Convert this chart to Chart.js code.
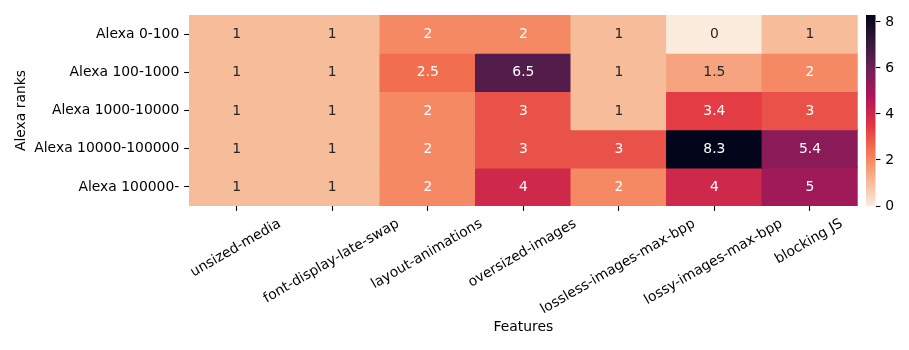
<!DOCTYPE html>
<html>
<head>
<meta charset="utf-8">
<script src="https://cdn.jsdelivr.net/npm/chart.js@4/dist/chart.umd.min.js"></script>
<style>
  html, body { margin: 0; padding: 0; background: #fff; }
  #wrap { position: relative; width: 909px; height: 350px; }
  #heat { position: absolute; left: 0; top: 0; }
  #cbar { position: absolute; left: 866px; top: 0; }
</style>
</head>
<body>
<div id="wrap">
  <canvas id="heat" width="909" height="350"></canvas>
  <canvas id="cbar" width="43" height="350"></canvas>
</div>
<script>
// --- data ---
const features = ['unsized-media', 'font-display-late-swap', 'layout-animations', 'oversized-images',
                  'lossless-images-max-bpp', 'lossy-images-max-bpp', 'blocking JS'];
const ranks = ['Alexa 0-100', 'Alexa 100-1000', 'Alexa 1000-10000', 'Alexa 10000-100000', 'Alexa 100000-'];
const row0 = [1, 1, 2, 2, 1, 0, 1];
const row1 = [1, 1, 2.5, 6.5, 1, 1.5, 2];
const row2 = [1, 1, 2, 3, 1, 3.4, 3];
const row3 = [1, 1, 2, 3, 3, 8.3, 5.4];
const row4 = [1, 1, 2, 4, 2, 4, 5];
const rows = [row0, row1, row2, row3, row4];
const cbTicks = [0, 2, 4, 6, 8];

const vmin = 0;
const vmax = Math.max(...rows.flat());

// rocket_r colormap (light -> dark)
const rocketR = ['#faebdd', '#f6b48f', '#f37651', '#e13342', '#ad1759', '#701f57', '#35193e', '#03051a'];

const FONT = '"DejaVu Sans", sans-serif';
const FS = 13.9;

function hexRgb(h) {
    return [parseInt(h.slice(1, 3), 16), parseInt(h.slice(3, 5), 16), parseInt(h.slice(5, 7), 16)];
}

function cmap(v) {
    let t = (v - vmin) / (vmax - vmin);
    t = Math.min(1, Math.max(0, t)) * (rocketR.length - 1);
    const i = Math.min(rocketR.length - 2, Math.floor(t));
    const f = t - i;
    const a = hexRgb(rocketR[i]), b = hexRgb(rocketR[i + 1]);
    return a.map((c, k) => Math.round(c + (b[k] - c) * f));
}

function rgbStr(c) { return `rgb(${c[0]},${c[1]},${c[2]})`; }

function luminance(c) {
    const lin = c.map(x => {
        x /= 255;
        return x <= 0.03928 ? x / 12.92 : Math.pow((x + 0.055) / 1.055, 2.4);
    });
    return 0.2126 * lin[0] + 0.7152 * lin[1] + 0.0722 * lin[2];
}

// ============================================
// annotations + rotated x labels
// ============================================
const heatPlugin = {
    id: 'heatText',
    afterDatasetsDraw(chart) {
        const ctx = chart.ctx;
        ctx.save();
        ctx.font = `${FS}px ${FONT}`;
        ctx.textAlign = 'center';
        ctx.textBaseline = 'middle';
        chart.data.datasets.forEach((ds, di) => {
            const meta = chart.getDatasetMeta(di);
            meta.data.forEach((el, i) => {
                const v = ds.data[i].v;
                const col = cmap(v);
                ctx.fillStyle = luminance(col) > 0.408 ? '#262626' : '#ffffff';
                ctx.fillText(String(v), el.x, (el.y + el.base) / 2 + 0.5);
            });
        });
        ctx.restore();
    },
    afterDraw(chart) {
        const ctx = chart.ctx;
        const xs = chart.scales.x;
        const ang = 30 * Math.PI / 180;
        const h = FS * 1.17;
        const top = chart.chartArea.bottom + 4.86 + 4.86;
        ctx.save();
        ctx.font = `${FS}px ${FONT}`;
        ctx.fillStyle = '#000';
        ctx.textAlign = 'center';
        ctx.textBaseline = 'middle';
        features.forEach((lab, i) => {
            const x = xs.getPixelForTick(i);
            const w = ctx.measureText(lab).width;
            const H = w * Math.sin(ang) + h * Math.cos(ang);
            ctx.save();
            ctx.translate(x - 1, top + H / 2);
            ctx.rotate(-ang);
            ctx.fillText(lab, 0, 0);
            ctx.restore();
        });
        ctx.restore();
    }
};

const datasets = rows.map((vals, r) => ({
    label: ranks[r],
    data: vals.map((v, c) => ({ x: features[c], y: [r, r + 1], v: v })),
    backgroundColor: ctx => rgbStr(cmap(ctx.raw.v)),
    borderWidth: 0,
    inflateAmount: 0.6,
    barPercentage: 1,
    categoryPercentage: 1,
    grouped: false,
}));

new Chart(document.getElementById('heat'), {
    type: 'bar',
    data: { labels: features, datasets: datasets },
    options: {
        responsive: false,
        animation: false,
        layout: { padding: { top: 15, right: 51.3, left: 0, bottom: 0 } },
        plugins: { legend: { display: false }, tooltip: { enabled: false } },
        scales: {
            x: {
                offset: true,
                grid: { offset: false, drawOnChartArea: false, drawTicks: true, tickLength: 4.86, tickWidth: 1.1, tickColor: '#000' },
                border: { display: false },
                ticks: { display: false },
                title: {
                    display: true, text: 'Features', color: '#000',
                    font: { family: FONT, size: FS }, padding: { top: 0, bottom: 14.2 },
                },
                afterFit: s => { s.height = 144; },
            },
            y: {
                min: 0,
                max: rows.length,
                reverse: true,
                afterBuildTicks: s => { s.ticks = ranks.map((_, i) => ({ value: i + 0.5 })); },
                grid: { drawOnChartArea: false, drawTicks: true, tickLength: 4.86, tickWidth: 1.1, tickColor: '#000' },
                border: { display: false },
                ticks: {
                    color: '#000', padding: 4.86, autoSkip: false,
                    font: { family: FONT, size: FS },
                    callback: v => ranks[Math.floor(v)],
                },
                title: {
                    display: true, text: 'Alexa ranks', color: '#000',
                    font: { family: FONT, size: FS }, padding: { top: 12.7, bottom: 0 },
                },
                afterFit: s => { s.width = 189; },
            },
        },
    },
    plugins: [heatPlugin],
});

// ============================================
// colorbar
// ============================================
const gradPlugin = {
    id: 'cbGradient',
    beforeDatasetsDraw(chart) {
        const { ctx, chartArea: a } = chart;
        const ys = chart.scales.y;
        const g = ctx.createLinearGradient(0, ys.getPixelForValue(vmin), 0, ys.getPixelForValue(vmax));
        rocketR.forEach((c, i) => g.addColorStop(i / (rocketR.length - 1), c));
        ctx.save();
        ctx.fillStyle = g;
        ctx.fillRect(a.left, a.top, a.right - a.left, a.bottom - a.top);
        ctx.restore();
    }
};

new Chart(document.getElementById('cbar'), {
    type: 'bar',
    data: { labels: [''], datasets: [{ data: [] }] },
    options: {
        responsive: false,
        animation: false,
        layout: { padding: { top: 15, bottom: 144, left: 0, right: 0 } },
        plugins: { legend: { display: false }, tooltip: { enabled: false } },
        scales: {
            x: { display: false },
            y: {
                position: 'right',
                min: vmin,
                max: vmax,
                afterBuildTicks: s => { s.ticks = cbTicks.map(v => ({ value: v })); },
                grid: { drawOnChartArea: false, drawTicks: true, tickLength: 4.86, tickWidth: 1.1, tickColor: '#000' },
                border: { display: false },
                ticks: { color: '#000', padding: 4.86, font: { family: FONT, size: FS } },
                afterFit: s => { s.width = 33.5; },
            },
        },
    },
    plugins: [gradPlugin],
});
</script>
</body>
</html>
